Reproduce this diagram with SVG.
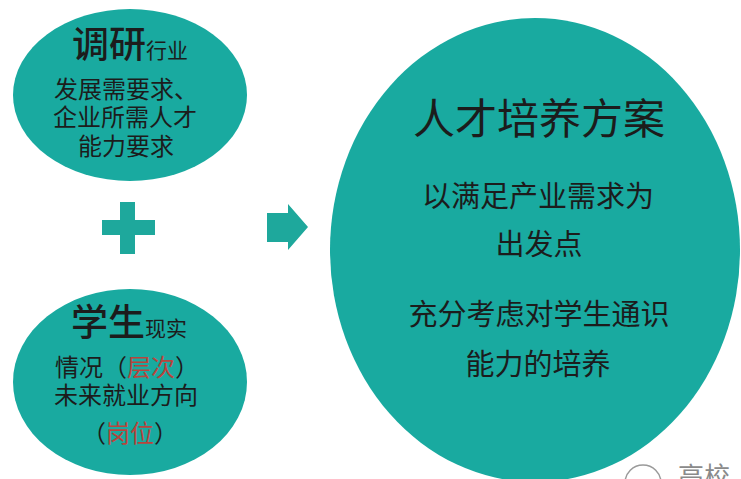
<svg xmlns="http://www.w3.org/2000/svg" width="741" height="479" viewBox="0 0 741 479">
<style>
.node{fill:#19aaa0}
.sym{fill:#1ea89c}
text{font-family:"Noto Sans CJK SC","Noto Sans",sans-serif;fill:#1c1c1c}
.big{font-size:37px;font-weight:500}
.sm{font-size:21px}
.t{font-size:24px}
.red{fill:#b8443c}
.title{font-size:42px}
.r{font-size:29px}
</style>
<rect width="741" height="479" fill="#ffffff"/>
<g id="node-research">
<ellipse class="node" cx="130" cy="95" rx="117" ry="86"/>
<text x="130" y="58" text-anchor="middle"><tspan class="big">调研</tspan><tspan class="sm">行业</tspan></text>
<text class="t" x="126" y="98" text-anchor="middle">发展需要求、</text>
<text class="t" x="125" y="126" text-anchor="middle">企业所需人才</text>
<text class="t" x="126" y="155" text-anchor="middle">能力要求</text>
</g>
<g id="node-student">
<ellipse class="node" cx="130" cy="382" rx="117" ry="93"/>
<text x="129" y="336" text-anchor="middle"><tspan class="big">学生</tspan><tspan class="sm">现实</tspan></text>
<text class="t" x="127" y="376" text-anchor="middle">情况（<tspan class="red">层次</tspan>）</text>
<text class="t" x="126" y="404" text-anchor="middle">未来就业方向</text>
<text class="t" x="130" y="442" text-anchor="middle">（<tspan class="red">岗位</tspan>）</text>
</g>
<g id="node-plan">
<ellipse class="node" cx="535" cy="250" rx="205" ry="232"/>
<text class="title" x="539" y="134" text-anchor="middle">人才培养方案</text>
<text class="r" x="538" y="207" text-anchor="middle">以满足产业需求为</text>
<text class="r" x="539" y="255" text-anchor="middle">出发点</text>
<text class="r" x="539" y="325" text-anchor="middle">充分考虑对学生通识</text>
<text class="r" x="538" y="375" text-anchor="middle">能力的培养</text>
</g>
<g id="connectors">
<path class="sym" d="M120,202 H135 V220 H155 V235 H135 V254 H120 V235 H102 V220 H120 Z"/>
<path class="sym" d="M267,213 H288 V204 L308,227 L288,250 V242 H267 Z"/>
</g>
<g id="watermark">
<circle cx="643" cy="483" r="18" fill="none" stroke="#9a9a9a" stroke-width="1.5"/>
<text x="678" y="486" font-size="26" style="fill:#8a8a8a">高校</text>
</g>
</svg>
